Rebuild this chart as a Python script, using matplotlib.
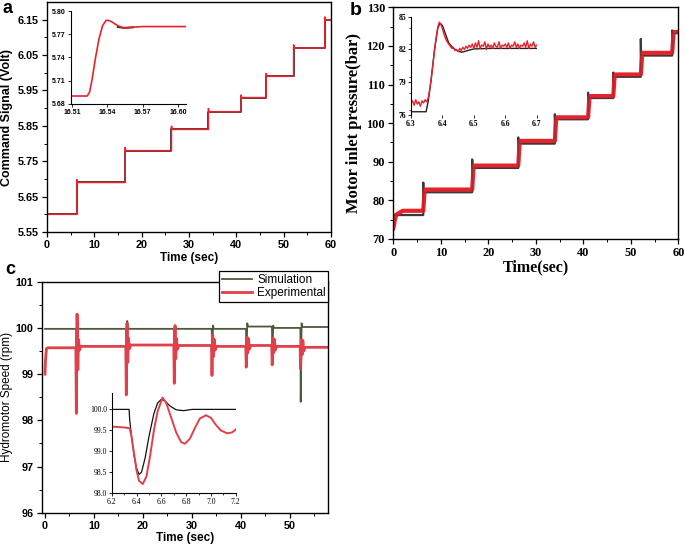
import numpy as np
import matplotlib
matplotlib.use("Agg")
from matplotlib import pyplot as plt
from matplotlib.ticker import MultipleLocator, FixedLocator

# ---- panel a: command signal ----
a_step_time = [0, 6.3, 16.5, 26.3, 34.1, 41.0, 46.3, 52.1, 58.7]
a_level = [5.60, 5.69, 5.78, 5.84, 5.89, 5.93, 5.99, 6.07, 6.15]
a_peak = [5.60, 5.698, 5.789, 5.849, 5.899, 5.937, 5.998, 6.079, 6.158]
a_end = 60

a_zoom_t = [16.509, 16.523, 16.525, 16.527, 16.530, 16.533, 16.536, 16.539, 16.541,
            16.544, 16.548, 16.552, 16.556, 16.560, 16.570, 16.585, 16.607]
a_zoom_v = [5.690, 5.690, 5.695, 5.710, 5.739, 5.764, 5.781, 5.788, 5.788,
            5.786, 5.782, 5.779, 5.778, 5.779, 5.780, 5.780, 5.780]
a_zoom_sim_t = [16.549, 16.553, 16.557, 16.562]
a_zoom_sim_v = [5.7795, 5.7785, 5.7785, 5.7790]

# ---- panel b: motor inlet pressure ----
b_step_time = [0, 6.3, 16.6, 26.3, 34.0, 41.0, 46.3, 52.1, 58.7]
b_sim = [76.2, 82.1, 88.4, 94.7, 101.0, 106.5, 112.0, 117.5, 123.3]
b_sim_peak = [76.2, 84.6, 90.6, 96.3, 102.3, 107.9, 113.1, 121.8, 124.0]
b_exp = [77.3, 82.8, 89.0, 95.4, 101.5, 107.0, 112.6, 118.2, 123.6]
b_start_t = [0, 0.15, 0.3, 0.6, 1.0, 2.0]
b_start_v = [72.8, 73.6, 74.9, 76.3, 76.6, 77.3]
b_end = 60

b_zoom_sim_t = [6.30, 6.348, 6.355, 6.364, 6.375, 6.385, 6.392, 6.400, 6.410, 6.420,
                6.435, 6.450, 6.462, 6.480, 6.500, 6.550, 6.700]
b_zoom_sim_v = [76.3, 76.3, 77.3, 79.2, 82.0, 83.9, 84.4, 84.2, 83.4, 82.6,
                82.1, 81.85, 81.75, 81.9, 82.05, 82.1, 82.1]
b_zoom_exp_v = [77.1, 77.3, 76.9, 77.4, 77.0, 77.2, 76.8, 77.3, 77.1, 77.4,
                77.2, 77.6, 78.4, 79.5, 80.7, 82.0, 83.1, 84.0, 84.5, 84.3,
                83.9, 83.4, 83.0, 82.7, 82.5, 82.3, 82.1, 82.2, 81.9, 82.0,
                81.8, 82.1, 81.9, 82.2, 82.0, 82.3, 82.1, 82.4, 82.2, 82.5,
                82.1, 82.6, 82.2, 82.8, 82.1, 82.4, 82.3, 82.7, 82.0, 82.5,
                82.2, 82.4, 82.1, 82.6, 82.3, 82.2, 82.7, 82.1, 82.4, 82.3,
                82.5, 82.2, 82.6, 82.1, 82.4, 82.3, 82.7, 82.2, 82.5, 82.1,
                82.4, 82.3, 82.6, 82.2, 82.8, 82.1, 82.5, 82.3, 82.7, 82.2, 82.4]
b_zoom_exp_t = np.linspace(6.30, 6.70, len(b_zoom_exp_v))

# ---- panel c: hydromotor speed ----
c_step_time = [6.3, 16.5, 26.3, 34.0, 41.0, 46.3, 52.1]
c_sim_level = [99.98, 99.98, 99.98, 99.98, 100.03, 100.0, 100.02]
c_sim_min = [98.45, 98.7, 99.0, 99.2, 99.3, 99.4, 98.4]
c_sim_max = [100.25, 100.15, 100.05, 100.05, 100.1, 100.05, 100.1]
c_exp_level = [99.6, 99.63, 99.62, 99.6, 99.62, 99.6, 99.58]
c_exp_min = [98.15, 98.55, 98.8, 98.97, 99.15, 99.2, 99.12]
c_exp_max = [100.3, 100.1, 100.05, 99.85, 99.8, 99.78, 99.75]
c_exp_start_t = [0, 0.1, 0.3, 0.6]
c_exp_start_v = [99.0, 99.3, 99.55, 99.57]
c_end = 57.8

c_zoom_sim_t = [6.20, 6.340, 6.345, 6.36, 6.38, 6.40, 6.42, 6.44, 6.47, 6.50, 6.54,
                6.57, 6.60, 6.63, 6.67, 6.72, 6.78, 6.85, 7.20]
c_zoom_sim_v = [100.0, 100.0, 99.75, 99.35, 98.9, 98.6, 98.45, 98.5, 98.85, 99.35, 99.9,
                100.15, 100.24, 100.2, 100.08, 99.99, 99.97, 100.0, 100.0]
c_zoom_exp_t = [6.20, 6.25, 6.30, 6.345, 6.36, 6.38, 6.40, 6.42, 6.45, 6.48, 6.51,
                6.54, 6.57, 6.61, 6.64, 6.68, 6.72, 6.76, 6.79, 6.83, 6.87, 6.91,
                6.96, 7.00, 7.04, 7.08, 7.13, 7.17, 7.20]
c_zoom_exp_v = [99.59, 99.58, 99.57, 99.55, 99.35, 98.95, 98.55, 98.3, 98.22, 98.4, 98.9,
                99.5, 99.95, 100.28, 100.15, 99.8, 99.45, 99.22, 99.18, 99.3, 99.55, 99.78,
                99.86, 99.8, 99.63, 99.5, 99.43, 99.45, 99.52]

RED = "#e8222b"
CRED = "#e0404a"
GREEN = "#4d5a3a"

sans = "Liberation Sans"
serif = "Liberation Serif"

fig = plt.figure(figsize=(6.85, 5.48), dpi=100)


def style_main(ax, family, size, weight="bold"):
    ax.tick_params(which="both", direction="out", top=False, right=False)
    ax.tick_params(which="major", length=3.5, width=0.9, labelsize=size, pad=2.5)
    ax.tick_params(which="minor", length=2, width=0.7)
    for lab in ax.get_xticklabels() + ax.get_yticklabels():
        lab.set_family(family)
        lab.set_weight(weight)
    for s in ax.spines.values():
        s.set_linewidth(1.0)


def style_inset(ax, family, size, weight, minor_x=None, minor_y=None):
    ax.patch.set_alpha(0)
    ax.spines["top"].set_visible(False)
    ax.spines["right"].set_visible(False)
    ax.tick_params(which="both", direction="out", top=False, right=False)
    ax.tick_params(which="major", length=2, width=0.6, labelsize=size, pad=1.5)
    ax.tick_params(which="minor", length=1.2, width=0.5)
    if minor_x:
        ax.xaxis.set_minor_locator(MultipleLocator(minor_x))
    if minor_y:
        ax.yaxis.set_minor_locator(MultipleLocator(minor_y))
    for lab in ax.get_xticklabels() + ax.get_yticklabels():
        lab.set_family(family)
        lab.set_weight(weight)
    for s in ax.spines.values():
        s.set_linewidth(0.8)


# ================= panel a =================
ax_a = fig.add_axes([0.0686, 0.5766, 0.4146, 0.4197])
sim_t, sim_v, exp_t, exp_v = [], [], [], []
for i, lev in enumerate(a_level):
    t0 = a_step_time[i]
    t1 = a_step_time[i + 1] if i + 1 < len(a_step_time) else a_end
    sim_t += [t0, t1]
    sim_v += [lev, lev]
    exp_t += [t0, t0 + 0.15, t1]
    exp_v += [a_peak[i], lev, lev]
ax_a.plot(sim_t, sim_v, color="#222222", lw=1.2)
ax_a.plot(exp_t, exp_v, color=RED, lw=1.1)
ax_a.set_xlim(0, 60)
ax_a.set_ylim(5.55, 6.20)
ax_a.set_yticks([5.55, 5.65, 5.75, 5.85, 5.95, 6.05, 6.15])
ax_a.set_xticks([0, 10, 20, 30, 40, 50, 60])
ax_a.xaxis.set_minor_locator(MultipleLocator(5))
ax_a.yaxis.set_minor_locator(FixedLocator([5.60, 5.70, 5.80, 5.90, 6.00, 6.10]))
ax_a.set_ylabel("Command Signal (Volt)", family=sans, weight="bold", fontsize=9)
ax_a.yaxis.set_label_coords(-0.118, 0.5)
ax_a.set_xlabel("Time (sec)", family=sans, weight="bold", fontsize=8.5, labelpad=1)
style_main(ax_a, sans, 7.8)

in_a = fig.add_axes([0.1032, 0.8107, 0.1686, 0.1690])
in_a.plot(a_zoom_sim_t, a_zoom_sim_v, color="#222222", lw=1.4)
in_a.plot(a_zoom_t, a_zoom_v, color=RED, lw=1.2)
in_a.set_xlim(16.509, 16.607)
in_a.set_ylim(5.68, 5.80)
in_a.set_xticks([16.51, 16.54, 16.57, 16.60])
in_a.set_yticks([5.68, 5.71, 5.74, 5.77, 5.80])
style_inset(in_a, sans, 5, "bold")

# ================= panel b =================
ax_b = fig.add_axes([0.5742, 0.5639, 0.4161, 0.4228])
sim_t, sim_v, exp_t, exp_v = [], [], list(b_start_t), list(b_start_v)
for i, lev in enumerate(b_sim):
    t0 = b_step_time[i]
    t1 = b_step_time[i + 1] if i + 1 < len(b_step_time) else b_end
    sim_t += [t0, t0 + 0.05, t1]
    sim_v += [b_sim_peak[i], lev, lev]
    if i > 0:
        exp_t += [t0, t0 + 0.3]
        exp_v += [b_exp[i - 1], b_exp[i]]
    exp_t += [t1]
    exp_v += [b_exp[i]]
ax_b.plot(sim_t, sim_v, color="#3a3a3a", lw=1.6)
ax_b.plot(exp_t, exp_v, color=RED, lw=3.0)
ax_b.plot(sim_t, sim_v, color="#3a3a3a", lw=0.6, alpha=0.6)
ax_b.set_xlim(0, 60)
ax_b.set_ylim(70, 130)
ax_b.set_xticks([0, 10, 20, 30, 40, 50, 60])
ax_b.set_yticks([70, 80, 90, 100, 110, 120, 130])
ax_b.xaxis.set_minor_locator(MultipleLocator(5))
ax_b.yaxis.set_minor_locator(MultipleLocator(5))
ax_b.set_ylabel("Motor inlet pressure(bar)", family=serif, weight="bold", fontsize=12, labelpad=3)
ax_b.set_xlabel("Time(sec)", family=serif, weight="bold", fontsize=11.5, labelpad=0)
style_main(ax_b, serif, 8.8)

in_b = fig.add_axes([0.6000, 0.7901, 0.1835, 0.1794])
in_b.plot(b_zoom_sim_t, b_zoom_sim_v, color="#222222", lw=1.0)
in_b.plot(b_zoom_exp_t, b_zoom_exp_v, color=RED, lw=1.0)
in_b.set_xlim(6.3, 6.7)
in_b.set_ylim(76, 85)
in_b.set_xticks([6.3, 6.4, 6.5, 6.6, 6.7])
in_b.set_yticks([76, 79, 82, 85])
style_inset(in_b, serif, 5.5, "bold", minor_y=1.5)
in_b.spines["bottom"].set_visible(False)

# ================= panel c =================
ax_c = fig.add_axes([0.0609, 0.0644, 0.4180, 0.4215])
sim_t, sim_v = [0], [c_sim_level[0]]
exp_t, exp_v = list(c_exp_start_t), list(c_exp_start_v)
for i, t0 in enumerate(c_step_time):
    prev_sim = c_sim_level[i - 1] if i > 0 else c_sim_level[0]
    sim_t += [t0, t0 + 0.05, t0 + 0.12, t0 + 0.3, t0 + 0.45]
    sim_v += [prev_sim, prev_sim, c_sim_min[i], c_sim_max[i], c_sim_level[i]]
    prev_exp = c_exp_level[i - 1] if i > 0 else c_exp_start_v[-1]
    exp_t += [t0, t0 + 0.1, t0 + 0.25, t0 + 0.4, t0 + 0.55, t0 + 0.75, t0 + 1.0]
    exp_v += [prev_exp, c_exp_min[i], c_exp_max[i],
              c_exp_level[i] - 0.35 * (c_exp_level[i] - c_exp_min[i]),
              c_exp_level[i] + 0.15, c_exp_level[i] - 0.08, c_exp_level[i]]
sim_t += [c_end]
sim_v += [c_sim_level[-1]]
exp_t += [c_end]
exp_v += [c_exp_level[-1]]
l_sim, = ax_c.plot(sim_t, sim_v, color=GREEN, lw=1.3, label="Simulation")
l_exp, = ax_c.plot(exp_t, exp_v, color=CRED, lw=2.0, label="Experimental")
ax_c.set_xlim(-0.67, 57.8)
ax_c.set_ylim(96, 101)
ax_c.set_xticks([0, 10, 20, 30, 40, 50])
ax_c.set_yticks([96, 97, 98, 99, 100, 101])
ax_c.xaxis.set_minor_locator(MultipleLocator(5))
ax_c.yaxis.set_minor_locator(MultipleLocator(0.5))
ax_c.set_ylabel("Hydromotor Speed (rpm)", family=sans, fontsize=8.5)
ax_c.yaxis.set_label_coords(-0.102, 0.5)
ax_c.set_xlabel("Time (sec)", family=sans, weight="bold", fontsize=8.5, labelpad=1)
style_main(ax_c, sans, 7.8)
leg = ax_c.legend(handles=[l_sim, l_exp], loc="upper right", bbox_to_anchor=(1.0, 1.045),
                  prop={"family": sans, "size": 8.5}, frameon=True, fancybox=False,
                  edgecolor="black", borderpad=0.2, handlelength=2.6, handletextpad=0.4,
                  labelspacing=0.15, borderaxespad=0)
leg.get_frame().set_linewidth(0.9)
leg.get_frame().set_alpha(1)

in_c = fig.add_axes([0.1631, 0.0998, 0.1810, 0.1830])
in_c.plot(c_zoom_sim_t, c_zoom_sim_v, color="#111111", lw=0.9)
in_c.plot(c_zoom_exp_t, c_zoom_exp_v, color=CRED, lw=1.4)
in_c.set_xlim(6.2, 7.2)
in_c.set_ylim(98.0, 100.39)
in_c.set_xticks([6.2, 6.4, 6.6, 6.8, 7.0, 7.2])
in_c.set_yticks([98.0, 98.5, 99.0, 99.5, 100.0])
in_c.set_yticklabels(["98.0", "98.5", "99.0", "99.5", "100.0"])
style_inset(in_c, serif, 5.5, "normal", minor_x=0.1)

# panel letters
fig.text(0.003, 0.985, "a", family=sans, weight="bold", fontsize=13, va="center")
fig.text(0.511, 0.981, "b", family=sans, weight="bold", fontsize=14, va="center")
fig.text(0.008, 0.508, "c", family=sans, weight="bold", fontsize=13, va="center")

fig.savefig("out.png", dpi=100)
